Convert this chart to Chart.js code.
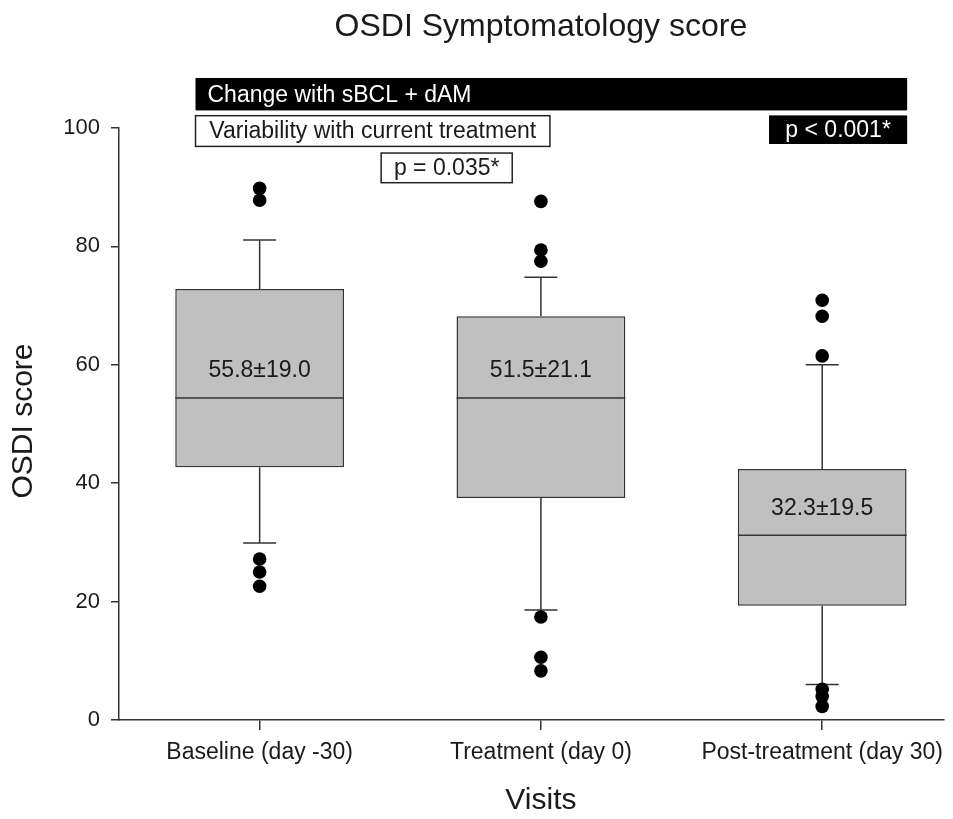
<!DOCTYPE html>
<html>
<head>
<meta charset="utf-8">
<script src="https://cdn.jsdelivr.net/npm/chart.js@4/dist/chart.umd.min.js"></script>
<style>
  html, body { margin: 0; padding: 0; background: #fff; }
  #wrap { width: 953px; height: 819px; }
</style>
</head>
<body>
<div id="wrap"><canvas id="myChart" width="953" height="819"></canvas></div>
<script>
// data
var categories = ['Baseline (day -30)', 'Treatment (day 0)', 'Post-treatment (day 30)'];
var whiskerLow = [29.9, 18.6, 6.0];
var q1 = [42.7, 37.5, 19.3];
var median = [54.4, 54.4, 31.2];
var q3 = [72.8, 68.2, 42.4];
var whiskerHigh = [81.1, 74.8, 60.0];
var outliers = [
    [89.8, 87.8, 27.2, 25.0, 22.6],
    [87.6, 79.4, 77.5, 17.4, 10.6, 8.3],
    [70.9, 68.2, 61.5, 5.2, 4.0, 2.3]
];
var meanSd = ['55.8\u00b119.0', '51.5\u00b121.1', '32.3\u00b119.5'];
var yTicks = [0, 20, 40, 60, 80, 100];

var FONT = '"Liberation Sans", Arial, sans-serif';
var INK = '#1a1a1a';

var boxData = categories.map(function (c, i) {
    return { x: i + 1, y: [q1[i], q3[i]] };
});
var outlierData = [];
outliers.forEach(function (arr, i) {
    arr.forEach(function (v) { outlierData.push({ x: i + 1, y: v }); });
});

// whiskers, medians, labels, annotation boxes and titles
var boxPlotExtras = {
    id: 'boxPlotExtras',
    beforeDatasetsDraw: function (chart) {
        var ctx = chart.ctx, xs = chart.scales.x, ys = chart.scales.y;
        ctx.save();
        ctx.strokeStyle = '#333';
        ctx.lineWidth = 1.5;
        categories.forEach(function (c, i) {
            var x = xs.getPixelForValue(i + 1);
            var cap = 16.5;
            ctx.beginPath();
            ctx.moveTo(x, ys.getPixelForValue(q3[i]));
            ctx.lineTo(x, ys.getPixelForValue(whiskerHigh[i]));
            ctx.moveTo(x - cap, ys.getPixelForValue(whiskerHigh[i]));
            ctx.lineTo(x + cap, ys.getPixelForValue(whiskerHigh[i]));
            ctx.moveTo(x, ys.getPixelForValue(q1[i]));
            ctx.lineTo(x, ys.getPixelForValue(whiskerLow[i]));
            ctx.moveTo(x - cap, ys.getPixelForValue(whiskerLow[i]));
            ctx.lineTo(x + cap, ys.getPixelForValue(whiskerLow[i]));
            ctx.stroke();
        });
        ctx.restore();
    },
    afterDatasetsDraw: function (chart) {
        var ctx = chart.ctx, xs = chart.scales.x, ys = chart.scales.y;
        var meta = chart.getDatasetMeta(1);
        ctx.save();
        ctx.strokeStyle = '#333';
        ctx.lineWidth = 1.5;
        meta.data.forEach(function (bar, i) {
            var half = bar.width / 2;
            var y = ys.getPixelForValue(median[i]);
            ctx.beginPath();
            ctx.moveTo(bar.x - half, y);
            ctx.lineTo(bar.x + half, y);
            ctx.stroke();
            ctx.fillStyle = INK;
            ctx.font = '23px ' + FONT;
            ctx.textAlign = 'center';
            ctx.textBaseline = 'middle';
            ctx.fillText(meanSd[i], bar.x, y - 27);
        });

        // annotation boxes above the plot (x in category units, y in score units)
        function box(x1, x2, y1, y2, fill, stroke, text, color, align) {
            var l = xs.getPixelForValue(x1), r = xs.getPixelForValue(x2);
            var t = ys.getPixelForValue(y1), b = ys.getPixelForValue(y2);
            ctx.fillStyle = fill;
            ctx.fillRect(l, t, r - l, b - t);
            if (stroke) {
                ctx.strokeStyle = stroke;
                ctx.lineWidth = 1.5;
                ctx.strokeRect(l, t, r - l, b - t);
            }
            ctx.fillStyle = color;
            ctx.font = '23px ' + FONT;
            ctx.textBaseline = 'middle';
            if (align === 'left') {
                ctx.textAlign = 'left';
                ctx.fillText(text, l + 12, (t + b) / 2 + 1);
            } else {
                ctx.textAlign = 'center';
                ctx.fillText(text, (l + r) / 2, (t + b) / 2 + 1);
            }
        }
        box(0.772, 3.302, 108.45, 102.97, '#000', null, 'Change with sBCL + dAM', '#fff', 'left');
        box(0.772, 2.032, 102.08, 96.89, '#fff', '#222', 'Variability with current treatment', INK, 'center');
        box(1.432, 1.898, 95.77, 90.76, '#fff', '#222', 'p = 0.035*', INK, 'center');
        box(2.811, 3.302, 102.13, 97.3, '#000', null, 'p < 0.001*', '#fff', 'center');

        // chart title and axis titles
        var cx = xs.getPixelForValue(2);
        ctx.fillStyle = INK;
        ctx.textAlign = 'center';
        ctx.textBaseline = 'middle';
        ctx.font = '32px ' + FONT;
        ctx.fillText('OSDI Symptomatology score', cx, 27);
        ctx.font = '30px ' + FONT;
        ctx.fillText('Visits', cx, 801);
        ctx.translate(24, (chart.chartArea.top + chart.chartArea.bottom) / 2 - 3);
        ctx.rotate(-Math.PI / 2);
        ctx.fillText('OSDI score', 0, 0);
        ctx.restore();
    }
};

var ctx = document.getElementById('myChart');
window.myChart = new Chart(ctx, {
    data: {
        datasets: [{
            type: 'scatter',
            label: 'Outliers',
            data: outlierData,
            pointRadius: 6.8,
            pointBackgroundColor: '#000',
            pointBorderWidth: 0
        }, {
            type: 'bar',
            label: 'OSDI score',
            data: boxData,
            backgroundColor: '#c0c0c0',
            borderColor: '#333',
            borderWidth: 1.5,
            borderSkipped: false,
            barPercentage: 0.6,
            categoryPercentage: 1
        }]
    },
    options: {
        responsive: false,
        animation: false,
        layout: { padding: { top: 128, left: 0, right: 0, bottom: 0 } },
        plugins: {
            legend: { display: false },
            tooltip: { enabled: false }
        },
        scales: {
            x: {
                type: 'linear',
                min: 0.5,
                max: 3.433,
                offset: false,
                afterFit: function (s) { s.height = 99; },
                afterBuildTicks: function (s) {
                    s.ticks = categories.map(function (c, i) { return { value: i + 1 }; });
                },
                ticks: {
                    color: INK,
                    font: { family: FONT, size: 23 },
                    padding: 9,
                    maxRotation: 0,
                    autoSkip: false,
                    callback: function (v) { return categories[v - 1]; }
                },
                grid: { offset: false, drawOnChartArea: false, tickLength: 10, color: '#333', lineWidth: 1.5 },
                border: { color: '#333', width: 1.5 }
            },
            y: {
                min: 0,
                max: 100,
                afterFit: function (s) { s.width = 119; },
                afterBuildTicks: function (s) {
                    s.ticks = yTicks.map(function (v) { return { value: v }; });
                },
                ticks: {
                    color: INK,
                    font: { family: FONT, size: 22 },
                    padding: 11
                },
                grid: { drawOnChartArea: false, tickLength: 8, color: '#333', lineWidth: 1.5 },
                border: { color: '#333', width: 1.5 }
            }
        }
    },
    plugins: [boxPlotExtras]
});
</script>
</body>
</html>
